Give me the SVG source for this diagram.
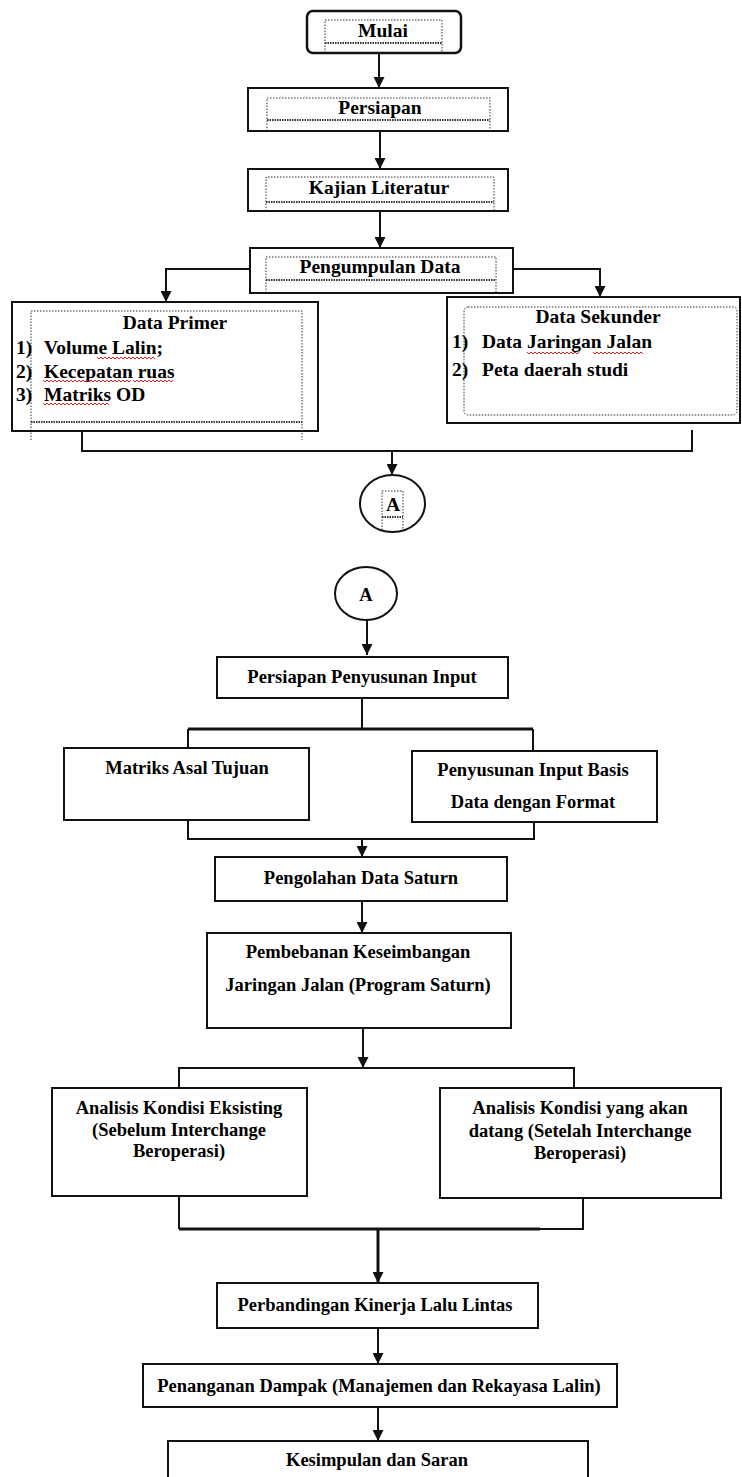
<svg xmlns="http://www.w3.org/2000/svg" width="742" height="1477" viewBox="0 0 742 1477">
<style>
.box{fill:#fff;stroke:#111;stroke-width:2}
.t{font-family:"Liberation Serif","Times New Roman",serif;font-weight:bold;font-size:19.5px;fill:#000}
.t2{font-family:"Liberation Serif","Times New Roman",serif;font-weight:bold;font-size:18.5px;fill:#000}
.c{text-anchor:middle}
.dot{fill:none;stroke:#333;stroke-width:1;stroke-dasharray:1.5 1.5}
.dash{fill:none;stroke:#333;stroke-width:2;stroke-dasharray:1.5 1}
.ln{fill:none;stroke:#111;stroke-width:2}
.thick{fill:none;stroke:#111;stroke-width:3}
.sp{fill:none;stroke:#e02020;stroke-width:1}
</style>
<defs>
<marker id="ah" viewBox="0 0 10 10" refX="10" refY="5" markerWidth="11" markerHeight="11" markerUnits="userSpaceOnUse" orient="auto">
<path d="M0,0 L10,5 L0,10 z" fill="#111"/>
</marker>
</defs>

<g id="connectors">
<path class="ln" d="M379,53 V88" marker-end="url(#ah)"/>
<path class="ln" d="M380,131 V169" marker-end="url(#ah)"/>
<path class="ln" d="M380,211 V248" marker-end="url(#ah)"/>
<path class="ln" d="M250,269 H166 V302" marker-end="url(#ah)"/>
<path class="ln" d="M513,269 H600 V297" marker-end="url(#ah)"/>
<path class="ln" d="M82,431 V451 H692 V430"/>
<path class="ln" d="M392,451 V475" marker-end="url(#ah)"/>
<path class="ln" d="M367,620 V655" marker-end="url(#ah)"/>
<path class="ln" d="M362,698 V729"/>
<path class="ln" d="M188,748 V729 M533,729 V751"/>
<path class="thick" d="M188,729 H533"/>
<path class="ln" d="M188,820 V839 H534 V822"/>
<path class="ln" d="M362,839 V857" marker-end="url(#ah)"/>
<path class="ln" d="M362,901 V933" marker-end="url(#ah)"/>
<path class="ln" d="M363,1028 V1068" marker-end="url(#ah)"/>
<path class="ln" d="M179,1088 V1068 H574 V1088"/>
<path class="ln" d="M179,1196 V1229 M583,1198 V1229 H540"/>
<path class="thick" d="M179,1229 H540"/>
<path class="thick" d="M378,1229 V1283" marker-end="url(#ah)"/>
<path class="ln" d="M378,1328 V1364" marker-end="url(#ah)"/>
<path class="ln" d="M378,1407 V1441" marker-end="url(#ah)"/>
</g>

<g id="mulai">
<rect x="307" y="11" width="154" height="42" rx="6" fill="#fff" stroke="#111" stroke-width="2.5"/>
<path class="dot" d="M325,53 V20 H442 V53"/>
<path class="dash" d="M325,43 H442"/>
<text class="t c" x="383" y="37">Mulai</text>
</g>

<g id="persiapan">
<rect class="box" x="248" y="88" width="260" height="43"/>
<path class="dot" d="M267,131 V98 H490 V131"/>
<path class="dash" d="M267,120 H490"/>
<text class="t c" x="380" y="114">Persiapan</text>
</g>

<g id="kajian">
<rect class="box" x="248" y="169" width="260" height="42"/>
<path class="dot" d="M266,211 V177 H494 V211"/>
<path class="dash" d="M266,202 H494"/>
<text class="t c" x="379" y="194">Kajian  Literatur</text>
</g>

<g id="pengumpulan">
<rect class="box" x="250" y="248" width="263" height="45"/>
<path class="dot" d="M266,293 V257 H496 V293"/>
<path class="dash" d="M266,280 H496"/>
<text class="t c" x="380" y="273">Pengumpulan Data</text>
</g>

<g id="data-primer">
<rect class="box" x="12" y="302" width="306" height="129"/>
<path class="dot" d="M31,440 V311 H302 V440"/>
<path class="dash" d="M31,422 H302"/>
<text class="t c" x="175" y="329">Data Primer</text>
<text class="t" x="16" y="354">1)</text>
<text class="t" x="44" y="354">Volume Lalin;</text>
<text class="t" x="16" y="378">2)</text>
<text class="t" x="44" y="378">Kecepatan  ruas</text>
<text class="t" x="16" y="401">3)</text>
<text class="t" x="44" y="401">Matriks OD</text>
<path class="sp" d="M97,357 l2,2 l2,-2 l2,2 l2,-2 l2,2 l2,-2 l2,2 l2,-2 l2,2 l2,-2 l2,2 l2,-2 l2,2 l2,-2 l2,2 l2,-2 l2,2 l2,-2 l2,2 l2,-2 l2,2 l2,-2 l2,2 l2,-2 l2,2 l2,-2 l2,2 l2,-2 l2,2"/>
<path class="sp" d="M43,380 l2,2 l2,-2 l2,2 l2,-2 l2,2 l2,-2 l2,2 l2,-2 l2,2 l2,-2 l2,2 l2,-2 l2,2 l2,-2 l2,2 l2,-2 l2,2 l2,-2 l2,2 l2,-2 l2,2 l2,-2 l2,2 l2,-2 l2,2 l2,-2 l2,2 l2,-2 l2,2 l2,-2 l2,2 l2,-2 l2,2 l2,-2 l2,2 l2,-2 l2,2 l2,-2 l2,2 l2,-2 l2,2 l2,-2 l2,2 l2,-2"/>
<path class="sp" d="M133,380 l2,2 l2,-2 l2,2 l2,-2 l2,2 l2,-2 l2,2 l2,-2 l2,2 l2,-2 l2,2 l2,-2 l2,2 l2,-2 l2,2 l2,-2 l2,2 l2,-2 l2,2 l2,-2"/>
<path class="sp" d="M43,403 l2,2 l2,-2 l2,2 l2,-2 l2,2 l2,-2 l2,2 l2,-2 l2,2 l2,-2 l2,2 l2,-2 l2,2 l2,-2 l2,2 l2,-2 l2,2 l2,-2 l2,2 l2,-2 l2,2 l2,-2 l2,2 l2,-2 l2,2 l2,-2 l2,2 l2,-2 l2,2 l2,-2 l2,2 l2,-2 l2,2"/>
</g>

<g id="data-sekunder">
<rect class="box" x="447" y="297" width="293" height="126"/>
<rect class="dot" x="464" y="307" width="273" height="108" rx="4"/>
<text class="t c" x="598" y="323">Data Sekunder</text>
<text class="t" x="452" y="348">1)</text>
<text class="t" x="482" y="348">Data Jaringan Jalan</text>
<text class="t" x="452" y="376">2)</text>
<text class="t" x="482" y="376">Peta daerah studi</text>
<path class="sp" d="M527,352 l2,2 l2,-2 l2,2 l2,-2 l2,2 l2,-2 l2,2 l2,-2 l2,2 l2,-2 l2,2 l2,-2 l2,2 l2,-2 l2,2 l2,-2 l2,2 l2,-2 l2,2 l2,-2 l2,2 l2,-2 l2,2 l2,-2 l2,2 l2,-2"/>
<path class="sp" d="M593,352 l2,2 l2,-2 l2,2 l2,-2 l2,2 l2,-2 l2,2 l2,-2 l2,2 l2,-2 l2,2 l2,-2 l2,2 l2,-2 l2,2 l2,-2 l2,2 l2,-2 l2,2 l2,-2 l2,2 l2,-2 l2,2 l2,-2 l2,2"/>
</g>

<g id="connector-a-out">
<ellipse cx="392.5" cy="503.5" rx="32.5" ry="28.5" fill="#fff" stroke="#111" stroke-width="2"/>
<path class="dot" d="M382,530 V491 H403 V530"/>
<path class="dash" d="M382,517 H403"/>
<text class="t c" x="393" y="511">A</text>
</g>

<g id="connector-a-in">
<ellipse cx="366" cy="593.5" rx="31" ry="26.5" fill="#fff" stroke="#111" stroke-width="2"/>
<text class="t2 c" x="366" y="601">A</text>
</g>

<g id="persiapan-penyusunan-input">
<rect class="box" x="217" y="657" width="291" height="41"/>
<text class="t2 c" x="362" y="683">Persiapan Penyusunan Input</text>
</g>

<g id="matriks-asal-tujuan">
<rect class="box" x="64" y="748" width="245" height="72"/>
<text class="t2 c" x="187" y="774">Matriks Asal Tujuan</text>
</g>

<g id="penyusunan-input-basis">
<rect class="box" x="412" y="751" width="245" height="71"/>
<text class="t2 c" x="533" y="776">Penyusunan Input Basis</text>
<text class="t2 c" x="533" y="808">Data dengan Format</text>
</g>

<g id="pengolahan-data-saturn">
<rect class="box" x="215" y="857" width="292" height="44"/>
<text class="t2 c" x="361" y="884">Pengolahan Data Saturn</text>
</g>

<g id="pembebanan">
<rect class="box" x="207" y="933" width="304" height="95"/>
<text class="t2 c" x="358" y="958">Pembebanan Keseimbangan</text>
<text class="t2 c" x="358" y="991">Jaringan Jalan (Program Saturn)</text>
</g>

<g id="analisis-eksisting">
<rect class="box" x="52" y="1088" width="255" height="108"/>
<text class="t2 c" x="179" y="1114">Analisis Kondisi Eksisting</text>
<text class="t2 c" x="179" y="1136">(Sebelum Interchange</text>
<text class="t2 c" x="179" y="1157">Beroperasi)</text>
</g>

<g id="analisis-akan-datang">
<rect class="box" x="440" y="1088" width="281" height="110"/>
<text class="t2 c" x="580" y="1114">Analisis Kondisi yang akan</text>
<text class="t2 c" x="580" y="1137">datang (Setelah Interchange</text>
<text class="t2 c" x="580" y="1159">Beroperasi)</text>
</g>

<g id="perbandingan">
<rect class="box" x="217" y="1283" width="321" height="45"/>
<text class="t2 c" x="375" y="1311">Perbandingan Kinerja Lalu Lintas</text>
</g>

<g id="penanganan">
<rect class="box" x="143" y="1364" width="474" height="43"/>
<text class="t2 c" x="379" y="1392">Penanganan Dampak (Manajemen dan Rekayasa Lalin)</text>
</g>

<g id="kesimpulan">
<rect class="box" x="168" y="1441" width="420" height="45"/>
<text class="t2 c" x="377" y="1466">Kesimpulan dan Saran</text>
</g>
</svg>
